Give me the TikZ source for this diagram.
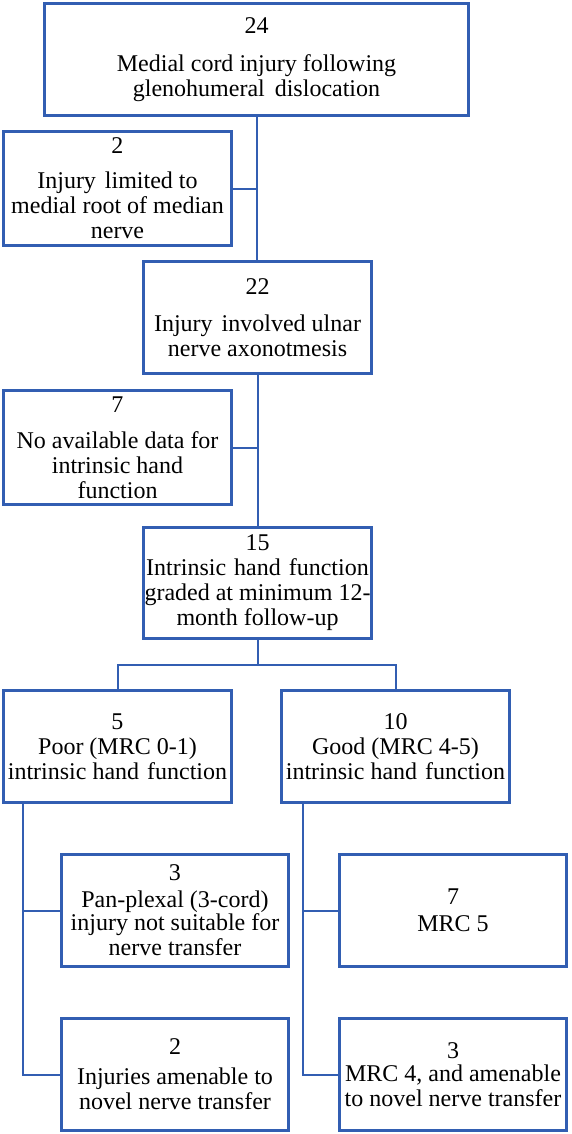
\documentclass[tikz,border=0pt]{standalone}
\usepackage{fontspec}
\setmainfont{Liberation Serif}
\definecolor{boxblue}{RGB}{50,94,178}
\begin{document}
\begin{tikzpicture}[x=1bp,y=-1bp,
  box/.style={draw=boxblue, line width=3bp, minimum width=228bp, minimum height=112bp,
    align=center, inner sep=0pt, text=black, font=\fontsize{24bp}{25bp}\selectfont},
  link/.style={draw=boxblue, line width=2bp}]
\useasboundingbox (0,0) rectangle (572,1134);
\node[box, minimum width=424bp] (top) at (256.5,59.5) {24\\[13bp]Medial cord injury following\\glenohumeral\hspace{4bp} dislocation};
\node[box, minimum height=114bp] (b2) at (117.5,188.5) {2\\[10bp]Injury\hspace{3bp} limited to\\medial root of median\\nerve};
\node[box] (b22) at (257.5,317.5) {22\\[12bp]Injury\hspace{3bp} involved ulnar\\nerve axonotmesis};
\node[box, minimum height=114bp] (b7) at (117.5,447.5) {7\\[11bp]No available data for\\intrinsic hand\\function};
\node[box, minimum height=111bp] (b15) at (257.5,583) {15\\Intrinsic\hspace{2bp} hand\hspace{2bp} function\\graded at minimum 12-\\month follow-up};
\node[box] (b5) at (117.5,746.5) {5\\Poor (MRC 0-1)\\intrinsic hand\hspace{2bp} function};
\node[box] (b10) at (395.5,746.5) {10\\Good (MRC 4-5)\\intrinsic hand\hspace{2bp} function};
\node[box, minimum width=227bp] (b3l) at (175,910.5) {3\\[2bp]Pan-plexal (3-cord)\\[-2bp]injury not suitable for\\nerve transfer};
\node[box, minimum width=227bp] (b2l) at (175,1074.5) {2\\[5bp]Injuries amenable to\\novel nerve transfer};
\node[box, minimum width=227bp] (b7r) at (453,910.5) {7\\[2bp]MRC 5};
\node[box, minimum width=227bp] (b3r) at (453,1074.5) {3\\[-2bp]MRC 4, and amenable\\to novel nerve transfer};
% connectors
\draw[link] (top.south) -- (top.south |- b22.north);
\draw[link] (b2.east) -- (b2.east -| top.south);
\draw[link] (b22.south) -- (b15.north);
\draw[link] (b7.east) -- (b7.east -| b22.south);
\coordinate (split) at ([yshift=-25bp]b15.south);
\draw[link] (b15.south) -- (split);
\draw[link] (b5.north) |- (split) -| (b10.north);
\coordinate (lv) at ([xshift=21bp]b5.south west);
\draw[link] (lv) |- (b2l.west);
\draw[link] (lv |- b3l.west) -- (b3l.west);
\coordinate (rv) at ([xshift=23bp]b10.south west);
\draw[link] (rv) |- (b3r.west);
\draw[link] (rv |- b7r.west) -- (b7r.west);
\end{tikzpicture}
\end{document}
